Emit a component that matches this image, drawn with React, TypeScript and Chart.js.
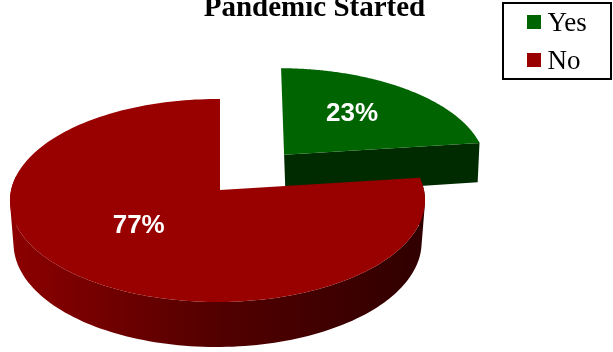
import React, { useEffect, useRef } from "react";
import { Chart, ArcElement, PieController, Title } from "chart.js";

const categories = ["Yes", "No"];
const shares = [23, 77];
const faceColors = ["#006400", "#990000"];
const titleText = "Pandemic Started";

const SERIF = "'Liberation Serif', 'Times New Roman', serif";
const SANS = "'Liberation Sans', Arial, sans-serif";

// Perspective model of the tilted disc: unit disc coordinates to canvas pixels.
const APEX_X = 220;
const APEX_Y = 190;
const SPAN_X = 206.4;
const SPAN_Y = 100.4;
const TILT = 0.1034;
const TILT_X = 0.012;
const DEPTH = 43;
const DEPTH_SHRINK = 0.017;
const EXPLODE_PX = 59;
// A pulled-out slice sits further back: slightly smaller, slightly sheared.
const PULLED_SCALE_X = 0.98;
const PULLED_SCALE_Y = 0.95;
const PULLED_SHEAR = 0.035;

type Pt = { x: number; y: number };

const project = (u: number, v: number, z: number): Pt => {
  const w = 1 - TILT * v + TILT_X * u + DEPTH_SHRINK * z;
  return { x: APEX_X + (SPAN_X * u) / w, y: APEX_Y + (SPAN_Y * v + DEPTH * z) / w };
};

const sideFill = (ctx: CanvasRenderingContext2D, color: string) => {
  if (color === faceColors[0]) return "#002b00";
  const g = ctx.createLinearGradient(12, 0, 424, 0);
  g.addColorStop(0, "#8c0000");
  g.addColorStop(0.5, "#520000");
  g.addColorStop(1, "#300000");
  return g;
};

// Position of a disc point for an arc, honouring its pull-out offset.
const arcPoint = (arc: any, a: number, z: number, r: number): Pt => {
  const mid = (arc.startAngle + arc.endAngle) / 2;
  const off = (arc.options.offset || 0) / arc.outerRadius;
  if (!off) return project(r * Math.cos(a), r * Math.sin(a), z);
  const base = project(Math.cos(mid) * off, Math.sin(mid) * off, 0);
  const local = project(r * Math.cos(a), r * Math.sin(a), z);
  const dx = (local.x - APEX_X) * PULLED_SCALE_X;
  const dy = (local.y - APEX_Y) * PULLED_SCALE_Y;
  return { x: base.x + dx + PULLED_SHEAR * dy, y: base.y + dy };
};

// Signed area, used to give every rim quad the same winding.
const signedArea = (pts: Pt[]) =>
  pts.reduce((sum, p, i) => {
    const q = pts[(i + 1) % pts.length];
    return sum + p.x * q.y - q.x * p.y;
  }, 0);

// Slices are drawn as extruded wedges on the tilted disc instead of flat arcs.
ArcElement.prototype.draw = function (this: any, ctx: CanvasRenderingContext2D) {
  const { startAngle, endAngle, options } = this;
  const steps = 180;
  const tracePoly = (pts: Pt[]) => {
    const ordered = signedArea(pts) < 0 ? [...pts].reverse() : pts;
    ordered.forEach((p, i) => (i ? ctx.lineTo(p.x, p.y) : ctx.moveTo(p.x, p.y)));
    ctx.closePath();
  };
  const side = sideFill(ctx, options.backgroundColor);
  const angleAt = (i: number) => startAngle + ((endAngle - startAngle) * i) / steps;

  // Outer rim as one path of same-wound quads, only where it faces the viewer.
  ctx.beginPath();
  for (let i = 0; i < steps; i++) {
    const a0 = angleAt(i);
    const a1 = angleAt(i + 1);
    if (Math.sin(a0) > -0.15 && Math.sin(a1) > -0.15) {
      tracePoly([arcPoint(this, a0, 0, 1), arcPoint(this, a1, 0, 1), arcPoint(this, a1, 1, 1), arcPoint(this, a0, 1, 1)]);
    }
  }
  // Cut face along the closing edge of the wedge, when it looks forward.
  if (Math.cos(endAngle) > 0.01) {
    tracePoly([arcPoint(this, endAngle, 0, 0), arcPoint(this, endAngle, 0, 1), arcPoint(this, endAngle, 1, 1), arcPoint(this, endAngle, 1, 0)]);
  }
  ctx.fillStyle = side;
  ctx.fill("nonzero");

  ctx.beginPath();
  const face = [arcPoint(this, startAngle, 0, 0)];
  for (let i = 0; i <= steps; i++) face.push(arcPoint(this, angleAt(i), 0, 1));
  tracePoly(face);
  ctx.fillStyle = options.backgroundColor;
  ctx.fill();
};

const percentLabels = {
  id: "percentLabels",
  afterDatasetsDraw(chart: any) {
    const { ctx } = chart;
    const radial = [0.6, 0.5];
    const nudge = [[-7, 0], [-10, -4]];
    chart.getDatasetMeta(0).data.forEach((arc: any, i: number) => {
      const mid = (arc.startAngle + arc.endAngle) / 2;
      const p = arcPoint(arc, mid, 0, radial[i]);
      ctx.save();
      ctx.font = `bold 26px ${SANS}`;
      ctx.fillStyle = "#ffffff";
      ctx.textAlign = "center";
      ctx.textBaseline = "middle";
      ctx.fillText(`${shares[i]}%`, p.x + nudge[i][0], p.y + nudge[i][1]);
      ctx.restore();
    });
  },
};

const boxedLegend = {
  id: "boxedLegend",
  afterDraw(chart: any) {
    const { ctx } = chart;
    ctx.save();
    ctx.strokeStyle = "#000000";
    ctx.lineWidth = 2;
    ctx.strokeRect(503, 3, 108, 76);
    ctx.font = `27px ${SERIF}`;
    ctx.textBaseline = "alphabetic";
    categories.forEach((label, i) => {
      const row = i * 38;
      ctx.fillStyle = faceColors[i];
      ctx.fillRect(527, 15 + row, 14, 14);
      ctx.fillStyle = "#000000";
      ctx.fillText(label, 547.5, 31 + row - (i ? 0.5 : 0));
    });
    ctx.restore();
  },
};

export default function App() {
  const ref = useRef<HTMLCanvasElement>(null);
  useEffect(() => {
    Chart.register(PieController, ArcElement, Title);
    const chart = new Chart(ref.current!, {
      type: "pie",
      data: {
        labels: categories,
        datasets: [
          {
            data: shares,
            backgroundColor: faceColors,
            borderWidth: 0,
            offset: [EXPLODE_PX, 0],
          },
        ],
      },
      options: {
        animation: false,
        responsive: false,
        layout: { padding: { left: 16, right: 0, top: 0, bottom: 26 } },
        plugins: {
          title: {
            display: true,
            text: titleText,
            color: "#000000",
            font: { family: SERIF, size: 29, weight: "bold" },
            padding: { top: -9, bottom: 0 },
          },
        },
      },
      plugins: [percentLabels, boxedLegend],
    } as any);
    return () => chart.destroy();
  }, []);
  return (
    <canvas
      ref={ref}
      width={613}
      height={352}
      style={{ position: "fixed", left: 0, top: 0, width: 613, height: 352 }}
    />
  );
}
